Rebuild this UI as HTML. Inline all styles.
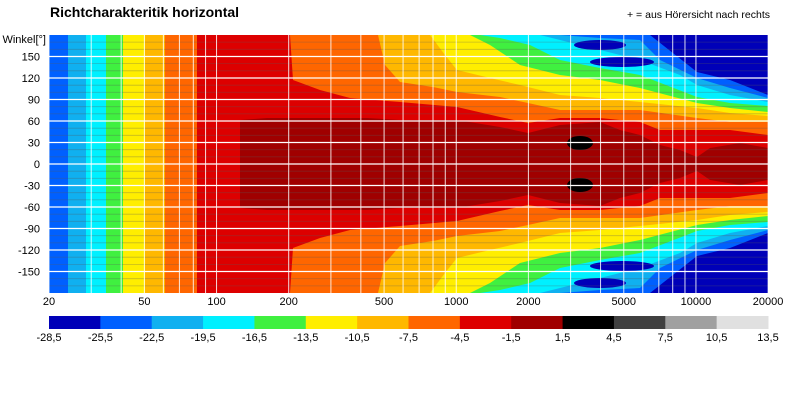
<!DOCTYPE html>
<html><head><meta charset="utf-8"><style>
body{margin:0;background:#fff;width:800px;height:404px;overflow:hidden;font-family:"Liberation Sans",sans-serif}
svg{display:block}
text{font-family:"Liberation Sans",sans-serif}
</style></head><body>
<svg id="s" width="800" height="404" xmlns="http://www.w3.org/2000/svg">
<text x="50" y="17" font-size="14" font-weight="bold">Richtcharakteritik horizontal</text>
<text x="770" y="18" font-size="10.5" text-anchor="end">+ = aus Hörersicht nach rechts</text>
<g id="map"></g>
<g id="grid"></g>
<g id="labels" font-size="11"></g>
</svg>
<script>
var NS="http://www.w3.org/2000/svg";
function el(p,t,a,txt){var e=document.createElementNS(NS,t);for(var k in a)e.setAttribute(k,a[k]);if(txt!=null)e.textContent=txt;p.appendChild(e);return e;}
var map=document.getElementById('map'),grid=document.getElementById('grid'),lab=document.getElementById('labels');
var X0=49,X1=768,Y0=35,Y1=293,C=164;
// low-frequency columns
var cols=[[49,68,'#0060ff'],[68,86,'#10b0f0'],[86,106,'#00f0ff'],[106,123,'#40f040'],[123,145,'#ffee00'],[145,165,'#ffb800'],[165,197,'#ff6600'],[197,768,'#0000b8']];
cols.forEach(function(c){el(map,'rect',{x:c[0],y:Y0,width:c[1]-c[0],height:Y1-Y0,fill:c[2]});});
function poly(pts,col){
  var s=pts.map(function(p){return p[0]+','+p[1];});
  for(var i=pts.length-1;i>=0;i--)s.push(pts[i][0]+','+(2*C-pts[i][1]));
  el(map,'polygon',{points:s.join(' '),fill:col});
}
poly([[197,35],[640,35],[650,35],[697,72],[730,80],[768,95]],'#0060ff');
poly([[197,35],[560,35],[600,38],[640,40],[660,60],[697,78],[730,88],[768,98]],'#10b0f0');
poly([[197,35],[540,35],[560,40],[600,50],[640,60],[680,75],[697,85],[730,95],[768,102]],'#00f0ff');
// dark blue islands
[[600,45,26,5],[622,62,32,5]].forEach(function(e){
 el(map,'ellipse',{cx:e[0],cy:e[1],rx:e[2],ry:e[3],fill:'#0000b8'});
 el(map,'ellipse',{cx:e[0],cy:2*C-e[1],rx:e[2],ry:e[3],fill:'#0000b8'});
});
poly([[197,35],[480,35],[500,38],[530,45],[560,60],[600,68],[640,75],[697,97],[730,103],[768,106]],'#40f040');
poly([[197,35],[470,35],[490,45],[520,65],[560,75],[600,80],[640,88],[697,103],[730,108],[768,112]],'#ffee00');
poly([[197,35],[430,35],[445,55],[457,70],[490,78],[520,85],[560,95],[600,98],[640,102],[697,108],[730,113],[768,116]],'#ffb800');
poly([[197,35],[378,35],[385,65],[400,82],[433,87],[457,92],[500,97],[528,103],[560,110],[640,110],[697,118],[730,122],[768,122]],'#ff6600');
poly([[197,35],[290,35],[293,80],[320,90],[350,98],[400,102],[457,107],[500,117],[528,123],[560,118],[600,118],[640,122],[660,130],[730,130],[768,135]],'#dd0000');
poly([[240,120],[267,118],[367,118],[400,120],[457,120],[500,127],[528,133],[560,125],[600,122],[620,130],[640,135],[660,145],[680,150],[697,157],[710,148],[740,143],[768,148]],'#a00000');
el(map,'ellipse',{cx:580,cy:143,rx:13,ry:7,fill:'#000'});
el(map,'ellipse',{cx:580,cy:185,rx:13,ry:7,fill:'#000'});
// grid
function lx(f){return X0+Math.log10(f/20)*239.7;}
for(var a=-170;a<=170;a+=10){var y=C-a*0.7167;
 if(a%30==0)el(grid,'line',{x1:X0,x2:X1,y1:y,y2:y,stroke:'#fff','stroke-width':1.2});
 else el(grid,'line',{x1:X0,x2:X1,y1:y,y2:y,stroke:'rgba(90,90,90,0.35)','stroke-width':0.8});}
[20,30,40,50,60,70,80,90,100,200,300,400,500,600,700,800,900,1000,2000,3000,4000,5000,6000,7000,8000,9000,10000,20000].forEach(function(f){
 var x=lx(f);el(grid,'line',{x1:x,x2:x,y1:Y0,y2:Y1,stroke:'rgba(255,255,255,0.85)','stroke-width':1});});
// y labels
el(lab,'text',{x:46,y:43,'text-anchor':'end'},'Winkel[°]');
[150,120,90,60,30,0,-30,-60,-90,-120,-150].forEach(function(a){el(lab,'text',{x:40,y:C-a*0.7167+4,'text-anchor':'end'},String(a));});
[20,50,100,200,500,1000,2000,5000,10000,20000].forEach(function(f){el(lab,'text',{x:lx(f),y:305,'text-anchor':'middle'},String(f));});
// colorbar
var cb=['#0000b8','#0060ff','#10b0f0','#00f0ff','#40f040','#ffee00','#ffb800','#ff6600','#dd0000','#a00000','#000000','#404040','#a0a0a0','#e0e0e0'];
var w=(X1-X0)/14;
cb.forEach(function(c,i){el(lab,'rect',{x:X0+i*w,y:316,width:w+0.5,height:13,fill:c});});
for(var i=0;i<=14;i++){var v=-28.5+3*i;el(lab,'text',{x:X0+i*w,y:341,'text-anchor':'middle'},v.toFixed(1).replace('.',','));}
</script>
</body></html>
